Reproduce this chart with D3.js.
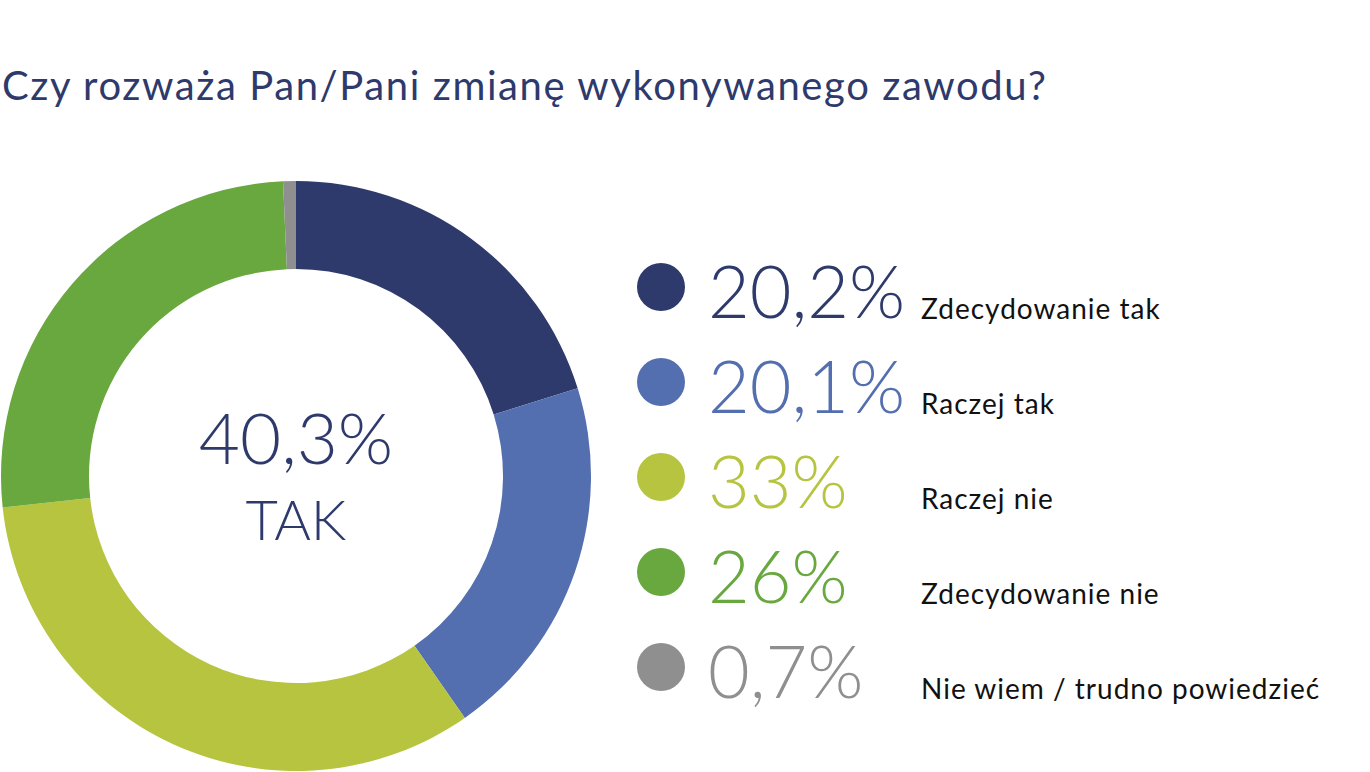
<!DOCTYPE html>
<html>
<head>
<meta charset="utf-8">
<script src="https://cdn.jsdelivr.net/npm/d3@7"></script>
<style>
  body { margin: 0; background: #fff; }
  svg { display: block; }
</style>
</head>
<body>
<script>
// data
const categories = ["Zdecydowanie tak", "Raczej tak", "Raczej nie", "Zdecydowanie nie", "Nie wiem / trudno powiedzieć"];
const values = [20.2, 20.1, 33, 26, 0.7];
const valueLabels = ["20,2%", "20,1%", "33%", "26%", "0,7%"];
const colors = ["#2e3a6c", "#546fb0", "#b6c43f", "#69a73f", "#8f8f8f"];
const title = "Czy rozważa Pan/Pani zmianę wykonywanego zawodu?";
const centerValue = "40,3%";
const centerLabel = "TAK";

const width = 1370, height = 772;
const fontFamily = 'Lato, "Open Sans", sans-serif';

const svg = d3.select("body").append("svg")
    .attr("width", width)
    .attr("height", height);

svg.append("text")
    .attr("x", 2)
    .attr("y", 100)
    .attr("fill", "#2e3a6c")
    .style("font-family", fontFamily)
    .style("font-size", "40px")
    .style("font-weight", "400")
    .style("letter-spacing", "1.6px")
    .text(title);

// donut
const cx = 296, cy = 476;
const outerR = 295, innerR = 207;

const pie = d3.pie().sort(null).value(d => d.value);
const arc = d3.arc().innerRadius(innerR).outerRadius(outerR);
const rows = categories.map((c, i) => ({label: c, value: values[i], text: valueLabels[i], color: colors[i]}));

const donut = svg.append("g").attr("transform", "translate(" + cx + "," + cy + ")");
donut.selectAll("path")
    .data(pie(rows))
    .enter()
    .append("path")
    .attr("d", arc)
    .attr("fill", d => d.data.color);

donut.append("text")
    .attr("text-anchor", "middle")
    .attr("y", -12)
    .attr("fill", "#2e3a6c")
    .style("font-family", fontFamily)
    .style("font-size", "71px")
    .style("font-weight", "300")
    .text(centerValue);

donut.append("text")
    .attr("text-anchor", "middle")
    .attr("y", 64)
    .attr("fill", "#2e3a6c")
    .style("font-family", fontFamily)
    .style("font-size", "56px")
    .style("font-weight", "300")
    .text(centerLabel);

// legend
const yScale = d3.scalePoint()
    .domain(categories)
    .range([287, 667]);

const legend = svg.append("g");
const row = legend.selectAll("g")
    .data(rows)
    .enter()
    .append("g")
    .attr("transform", d => "translate(0," + yScale(d.label) + ")");

row.append("circle")
    .attr("cx", 661)
    .attr("cy", 0)
    .attr("r", 24)
    .attr("fill", d => d.color);

row.append("text")
    .attr("x", 708)
    .attr("y", 31)
    .attr("fill", d => d.color)
    .style("font-family", fontFamily)
    .style("font-size", "72px")
    .style("font-weight", "300")
    .text(d => d.text);

row.append("text")
    .attr("x", 921)
    .attr("y", 32)
    .attr("fill", "#111")
    .style("font-family", fontFamily)
    .style("font-size", "28px")
    .style("font-weight", "400")
    .style("letter-spacing", "1px")
    .text(d => d.label);
</script>
</body>
</html>
